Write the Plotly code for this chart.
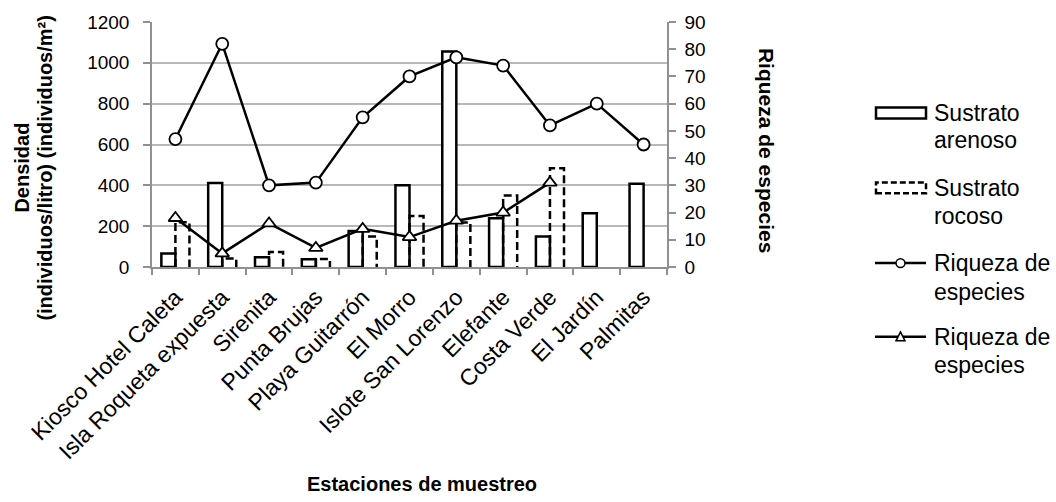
import plotly.graph_objects as go

# ---- data ----
estaciones = ["Kiosco Hotel Caleta", "Isla Roqueta expuesta", "Sirenita", "Punta Brujas",
              "Playa Guitarrón", "El Morro", "Islote San Lorenzo", "Elefante",
              "Costa Verde", "El Jardín", "Palmitas"]
arenoso = [66, 411, 48, 38, 176, 400, 1056, 239, 150, 263, 408]
rocoso = [219, 42, 74, 39, 150, 250, 218, 350, 484, None, None]
riqueza_circ = [47, 82, 30, 31, 55, 70, 77, 74, 52, 60, 45]
riqueza_tri = [18, 5, 16, 7, 14, 11, 17, 20, 31, None, None]

FONT = "Liberation Sans, Arial, sans-serif"
W, H = 1056, 502
L, R, T, B = 152, 389, 18, 235
PW, PH = W - L - R, H - T - B


def px(x):
    return (x - L) / PW


def py(y):
    return (H - B - y) / PH


xpos = list(range(len(estaciones)))
BW = 0.3
DASH = "8px,4px"

fig = go.Figure()

fig.add_trace(go.Bar(
    x=xpos, y=arenoso, width=BW, offset=-BW,
    marker=dict(color="white", line=dict(color="black", width=2.5)),
    name="Sustrato arenoso", showlegend=False, yaxis="y"))

# dashed-outline bars for rocoso, built from data
rx, ry = [], []
for i, v in zip(xpos, rocoso):
    if v is None:
        continue
    rx += [i, i, i + BW, i + BW, None]
    ry += [0, v, v, 0, None]
fig.add_trace(go.Scatter(
    x=rx, y=ry, mode="lines", line=dict(color="black", width=2.5, dash=DASH),
    name="Sustrato rocoso", showlegend=False, yaxis="y"))

fig.add_trace(go.Scatter(
    x=xpos, y=riqueza_circ, mode="lines+markers", yaxis="y2",
    line=dict(color="black", width=2.5),
    marker=dict(symbol="circle", size=12, color="white", line=dict(color="black", width=1.8)),
    name="Riqueza de especies", showlegend=False))

fig.add_trace(go.Scatter(
    x=xpos, y=riqueza_tri, mode="lines+markers", yaxis="y2",
    line=dict(color="black", width=2.5),
    marker=dict(symbol="triangle-up", size=12, color="white", line=dict(color="black", width=1.8)),
    name="Riqueza de especies", showlegend=False))

grid = "#b8b8b8"
axc = "#909090"

fig.update_layout(
    width=W, height=H,
    margin=dict(l=L, r=R, t=T, b=B, pad=0),
    paper_bgcolor="white", plot_bgcolor="white",
    font=dict(family=FONT, size=19, color="black"),
    xaxis=dict(
        range=[-0.5, len(estaciones) - 0.5],
        tickmode="array", tickvals=xpos, ticktext=estaciones, tickangle=-45,
        ticks="", showgrid=False, zeroline=False,
        showline=True, linecolor=axc, linewidth=1.5,
        tickfont=dict(size=23), ticklabelstandoff=6,
        minor=dict(tickmode="array", tickvals=[i - 0.5 for i in range(len(estaciones) + 1)],
                   ticks="outside", ticklen=6, tickcolor=axc, tickwidth=1.5, showgrid=False),
    ),
    yaxis=dict(
        range=[0, 1200], dtick=200, showgrid=True, gridcolor=grid, gridwidth=1.5,
        zeroline=False, showline=True, linecolor=axc, linewidth=1.5,
        ticks="outside", ticklen=7, tickcolor=axc, tickwidth=1.5,
        tickfont=dict(size=19), ticklabelstandoff=10,
    ),
    yaxis2=dict(
        range=[0, 90], dtick=10, overlaying="y", side="right", showgrid=False,
        zeroline=False, showline=True, linecolor=axc, linewidth=1.5,
        ticks="outside", ticklen=7, tickcolor=axc, tickwidth=1.5,
        tickfont=dict(size=19), ticklabelstandoff=5,
    ),
    showlegend=False,
)

ann = []
# axis titles
ann.append(dict(text="<b>Densidad</b>", x=px(22), y=py(166), xref="paper", yref="paper",
                textangle=-90, showarrow=False, font=dict(size=20), xanchor="center", yanchor="middle"))
ann.append(dict(text="<b>(individuos/litro) (individuos/m²)</b>", x=px(45), y=py(166),
                xref="paper", yref="paper", textangle=-90, showarrow=False, font=dict(size=20),
                xanchor="center", yanchor="middle"))
ann.append(dict(text="<b>Riqueza de especies</b>", x=px(766), y=py(148), xref="paper", yref="paper",
                textangle=90, showarrow=False, font=dict(size=21), xanchor="center", yanchor="middle"))
ann.append(dict(text="<b>Estaciones de muestreo</b>", x=px(422), y=py(488), xref="paper", yref="paper",
                showarrow=False, font=dict(size=20), xanchor="center", yanchor="middle"))

# manual legend
legend_lines = [("Sustrato", 110), ("arenoso", 138), ("Sustrato", 187), ("rocoso", 215),
                ("Riqueza de", 263), ("especies", 292), ("Riqueza de", 338), ("especies", 367)]
for t, yy in legend_lines:
    ann.append(dict(text=t, x=px(932), y=py(yy), xref="paper", yref="paper", showarrow=False,
                    font=dict(size=23), xanchor="left", yanchor="middle"))

shapes = []
shapes.append(dict(type="rect", xref="paper", yref="paper", x0=px(876), x1=px(926), y0=py(116), y1=py(105),
                   line=dict(color="black", width=2.5), fillcolor="white"))
shapes.append(dict(type="rect", xref="paper", yref="paper", x0=px(876), x1=px(926), y0=py(192), y1=py(181),
                   line=dict(color="black", width=2.5, dash="6px,3px"), fillcolor="white"))
for yy in (263, 338):
    shapes.append(dict(type="line", xref="paper", yref="paper", x0=px(875), x1=px(926), y0=py(yy), y1=py(yy),
                       line=dict(color="black", width=2.5)))
shapes.append(dict(type="circle", xref="paper", yref="paper", x0=px(896), x1=px(905), y0=py(267.5), y1=py(258.5),
                   line=dict(color="black", width=1.5), fillcolor="white"))
tri = f"M {px(896)} {py(342)} L {px(905)} {py(342)} L {px(900.5)} {py(333)} Z"
shapes.append(dict(type="path", xref="paper", yref="paper", path=tri,
                   line=dict(color="black", width=1.5), fillcolor="white"))

fig.update_layout(annotations=ann, shapes=shapes)

fig.write_html("out.html")
